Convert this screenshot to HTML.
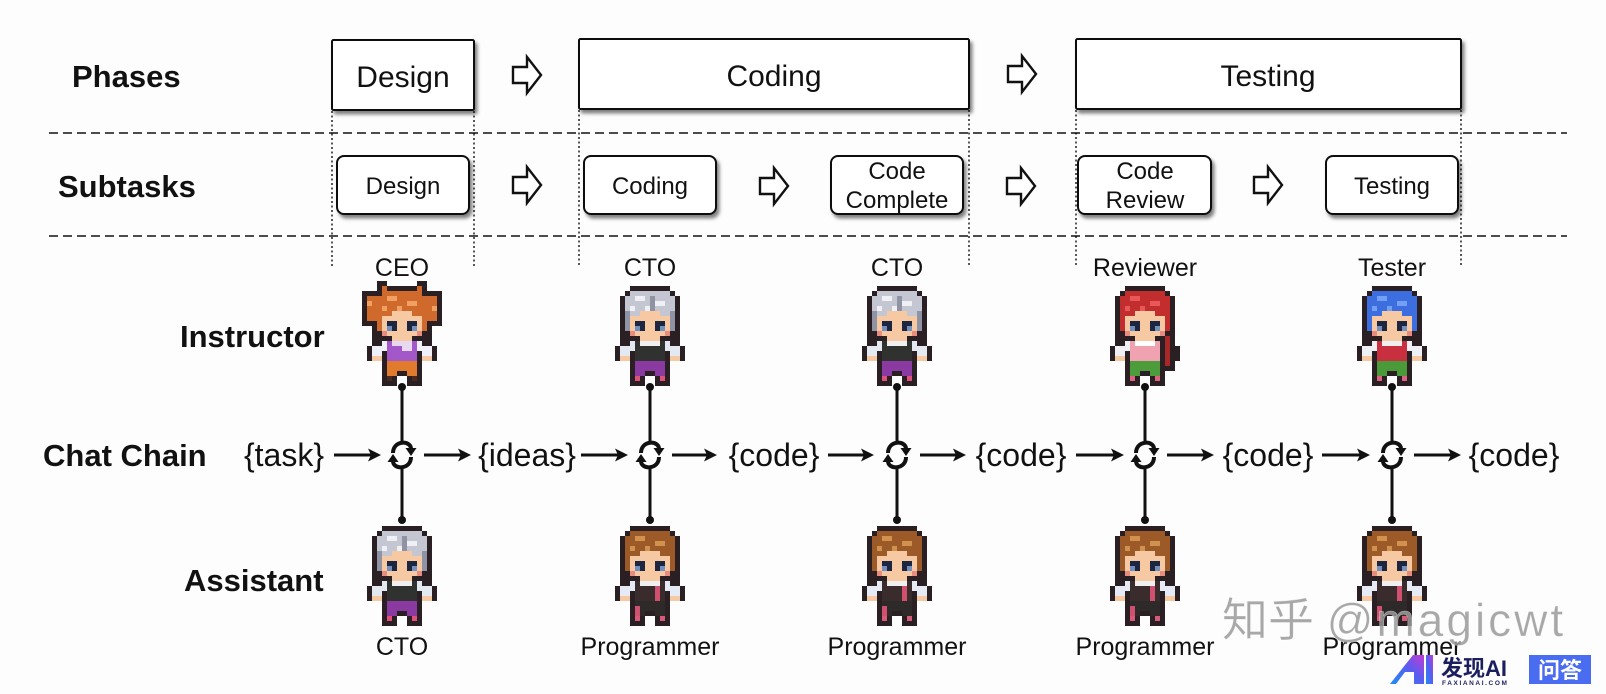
<!DOCTYPE html>
<html>
<head>
<meta charset="utf-8">
<style>
html,body{margin:0;padding:0;background:#fdfdfd;}
svg{display:block;}
text{font-family:"Liberation Sans","Noto Sans CJK SC",sans-serif;}
</style>
</head>
<body>
<svg width="1606" height="694" viewBox="0 0 1606 694" xmlns="http://www.w3.org/2000/svg">
<defs>
  <filter id="sh" x="-10%" y="-10%" width="130%" height="140%">
    <feDropShadow dx="2.5" dy="3.5" stdDeviation="1.8" flood-color="#000" flood-opacity="0.5"/>
  </filter>
  <linearGradient id="lg" x1="0" y1="1" x2="1" y2="0">
    <stop offset="0" stop-color="#1f8ef5"/>
    <stop offset="0.55" stop-color="#5a5cf0"/>
    <stop offset="1" stop-color="#c23bd4"/>
  </linearGradient>

  <g id="ha">
    <polygon points="-14,-8 0,-8 0,-18 14,0 0,18 0,8 -14,8" fill="#fff" stroke="#111" stroke-width="2.4" stroke-linejoin="miter"/>
  </g>

  <g id="cyc">
    <path d="M-9,-2 C-9,-15 9,-15 9,-6" fill="none" stroke="#111" stroke-width="4"/>
    <polygon points="3.5,-7 14.5,-7 9,1" fill="#111"/>
    <path d="M9,2 C9,15 -9,15 -9,6" fill="none" stroke="#111" stroke-width="4"/>
    <polygon points="-14.5,7 -3.5,7 -9,-1" fill="#111"/>
  </g>

  <g id="ah">
    <polygon points="-13,-6.5 0,0 -13,6.5 -10,0" fill="#111"/>
  </g>

  <g id="ch" shape-rendering="crispEdges">
    <g fill="#2a2024">
      <rect x="3" y="0" width="8" height="1"/>
      <rect x="2" y="1" width="10" height="1"/>
      <rect x="1" y="2" width="12" height="9"/>
      <rect x="1" y="11" width="12" height="4"/>
      <rect x="0" y="12" width="14" height="3"/>
      <rect x="3" y="15" width="8" height="3"/>
      <rect x="3" y="18" width="3" height="2"/>
      <rect x="8" y="18" width="3" height="2"/>
    </g>
    <g style="fill:var(--h)">
      <rect x="3" y="1" width="8" height="1"/>
      <rect x="2" y="2" width="10" height="4"/>
      <rect x="2" y="6" width="1" height="3"/>
      <rect x="11" y="6" width="1" height="3"/>
    </g>
    <g style="fill:var(--hl)">
      <rect x="4" y="2" width="2" height="1"/>
      <rect x="8" y="3" width="2" height="1"/>
      <rect x="3" y="4" width="1" height="1"/>
      <rect x="6" y="4" width="1" height="1"/>
    </g>
    <g fill="#f6c9a2">
      <rect x="5" y="5" width="4" height="1"/>
      <rect x="3" y="6" width="8" height="4"/>
      <rect x="5" y="10" width="4" height="1"/>
      <rect x="1" y="14" width="2" height="1"/>
      <rect x="11" y="14" width="2" height="1"/>
    </g>
    <g fill="#1d2640">
      <rect x="4" y="7" width="2" height="2"/>
      <rect x="8" y="7" width="2" height="2"/>
    </g>
    <g fill="#7090c0">
      <rect x="4" y="8" width="1" height="1"/>
      <rect x="9" y="8" width="1" height="1"/>
    </g>
    <g fill="#e88c80">
      <rect x="3" y="9" width="1" height="1"/>
      <rect x="10" y="9" width="1" height="1"/>
    </g>
    <g style="fill:var(--sl)">
      <rect x="1" y="12" width="2" height="2"/>
      <rect x="11" y="12" width="2" height="2"/>
      <rect x="3" y="11" width="1" height="2"/>
      <rect x="10" y="11" width="1" height="2"/>
    </g>
    <g style="fill:var(--b)"><rect x="4" y="11" width="6" height="4"/></g>
    <g style="fill:var(--c)"><rect x="5" y="11" width="4" height="1"/></g>
    <g style="fill:var(--p)">
      <rect x="4" y="15" width="6" height="2"/>
      <rect x="4" y="17" width="2" height="1"/>
      <rect x="8" y="17" width="2" height="1"/>
    </g>
    <g style="fill:var(--f)">
      <rect x="4" y="18" width="1" height="1"/>
      <rect x="9" y="18" width="1" height="1"/>
    </g>
  </g>

  <g id="ceo" shape-rendering="crispEdges">
    <g fill="#2a2024">
      <rect x="-1" y="1" width="3" height="7"/>
      <rect x="12" y="1" width="3" height="7"/>
      <rect x="2" y="-1" width="2" height="2"/>
      <rect x="10" y="-1" width="2" height="2"/>
    </g>
    <use href="#ch" style="--h:#cf6a2c;--hl:#f0a060;--sl:#f0f0f8;--b:#a258c8;--c:#e8d8f0;--p:#e07b2e;--f:#4a2a20"/>
    <g fill="#cf6a2c">
      <rect x="0" y="2" width="2" height="5"/>
      <rect x="12" y="2" width="2" height="5"/>
      <rect x="3" y="0" width="1" height="1"/>
      <rect x="10" y="0" width="1" height="1"/>
    </g>
    <g fill="#f0a060">
      <rect x="0" y="3" width="1" height="1"/>
      <rect x="13" y="4" width="1" height="1"/>
    </g>
    <g fill="#e8d8f0"><rect x="7" y="12" width="2" height="1"/></g>
  </g>
  <g id="cto" shape-rendering="crispEdges">
    <use href="#ch" style="--h:#c4c7d2;--hl:#eef0f6;--sl:#e4e8f0;--b:#30322f;--c:#f0f0f0;--p:#8a3aa0;--f:#e05078"/>
    <g fill="#8f93a3"><rect x="2" y="5" width="1" height="4"/><rect x="11" y="5" width="1" height="4"/><rect x="7" y="2" width="1" height="3"/></g>
  </g>
  <g id="prog" shape-rendering="crispEdges">
    <use href="#ch" style="--h:#9c5a28;--hl:#d0924c;--sl:#e6eaf4;--b:#3a2c2c;--c:#f0f0f0;--p:#2e2a2a;--f:#d85a78"/>
    <g fill="#d05070"><rect x="8" y="12" width="1" height="3"/><rect x="4" y="16" width="1" height="2"/></g>
  </g>
  <g id="rev" shape-rendering="crispEdges">
    <use href="#ch" style="--h:#c22e2e;--hl:#e8585a;--sl:#f0f0f4;--b:#f0a2b0;--c:#ffffff;--p:#4c9c3c;--f:#e06080"/>
    <g fill="#2a2024"><rect x="10" y="10" width="3" height="7"/></g>
    <g fill="#a82828"><rect x="11" y="10" width="1" height="6"/></g>
  </g>
  <g id="tes" shape-rendering="crispEdges">
    <use href="#ch" style="--h:#3c6ee0;--hl:#74a0f4;--sl:#eef0f6;--b:#c83040;--c:#f0f0f0;--p:#4a9a3a;--f:#e06080"/>
  </g>
</defs>

<rect width="1606" height="694" fill="#fdfdfd"/>

<g font-weight="bold" font-size="31" fill="#111">
  <text x="72" y="87">Phases</text>
  <text x="58" y="197">Subtasks</text>
  <text x="180" y="347">Instructor</text>
  <text x="43" y="466">Chat Chain</text>
  <text x="184" y="591">Assistant</text>
</g>

<g stroke="#111" stroke-width="1.5" stroke-dasharray="9 5">
  <line x1="49" y1="133" x2="1567" y2="133"/>
  <line x1="49" y1="236" x2="1567" y2="236"/>
</g>

<g stroke="#000" stroke-width="1.3" stroke-dasharray="2 2.5">
  <line x1="332" y1="111" x2="332" y2="266"/>
  <line x1="474" y1="111" x2="474" y2="266"/>
  <line x1="579" y1="110" x2="579" y2="266"/>
  <line x1="969" y1="110" x2="969" y2="266"/>
  <line x1="1076" y1="110" x2="1076" y2="266"/>
  <line x1="1461" y1="110" x2="1461" y2="266"/>
</g>

<g fill="#fff" stroke="#111" stroke-width="2" filter="url(#sh)">
  <rect x="332" y="40" width="142" height="70" rx="1.5"/>
  <rect x="579" y="39" width="390" height="70" rx="1.5"/>
  <rect x="1076" y="39" width="385" height="70" rx="1.5"/>
</g>
<g font-size="30" fill="#111" text-anchor="middle">
  <text x="403" y="87">Design</text>
  <text x="774" y="86">Coding</text>
  <text x="1268" y="86">Testing</text>
</g>
<use href="#ha" transform="translate(527,75)"/>
<use href="#ha" transform="translate(1022,74)"/>

<g fill="#fff" stroke="#111" stroke-width="2" filter="url(#sh)">
  <rect x="337" y="156" width="132" height="58" rx="7"/>
  <rect x="584" y="156" width="132" height="58" rx="7"/>
  <rect x="831" y="156" width="132" height="58" rx="7"/>
  <rect x="1078" y="156" width="133" height="58" rx="7"/>
  <rect x="1326" y="156" width="132" height="58" rx="7"/>
</g>
<g font-size="24" fill="#111" text-anchor="middle">
  <text x="403" y="194">Design</text>
  <text x="650" y="194">Coding</text>
  <text x="897" y="179">Code</text>
  <text x="897" y="208">Complete</text>
  <text x="1145" y="179">Code</text>
  <text x="1145" y="208">Review</text>
  <text x="1392" y="194">Testing</text>
</g>
<use href="#ha" transform="translate(527,185)"/>
<use href="#ha" transform="translate(774,186)"/>
<use href="#ha" transform="translate(1021,186)"/>
<use href="#ha" transform="translate(1268,185)"/>

<g font-size="25" fill="#111" text-anchor="middle">
  <text x="402" y="276">CEO</text>
  <text x="650" y="276">CTO</text>
  <text x="897" y="276">CTO</text>
  <text x="1145" y="276">Reviewer</text>
  <text x="1392" y="276">Tester</text>
  <text x="402" y="655">CTO</text>
  <text x="650" y="655">Programmer</text>
  <text x="897" y="655">Programmer</text>
  <text x="1145" y="655">Programmer</text>
  <text x="1392" y="655">Programmer</text>
</g>

<g stroke="#111" stroke-width="3">
  <line x1="402" y1="387" x2="402" y2="441"/><line x1="402" y1="469" x2="402" y2="520"/>
  <line x1="650" y1="387" x2="650" y2="441"/><line x1="650" y1="469" x2="650" y2="520"/>
  <line x1="897" y1="387" x2="897" y2="441"/><line x1="897" y1="469" x2="897" y2="520"/>
  <line x1="1145" y1="387" x2="1145" y2="441"/><line x1="1145" y1="469" x2="1145" y2="520"/>
  <line x1="1392" y1="387" x2="1392" y2="441"/><line x1="1392" y1="469" x2="1392" y2="520"/>
</g>

<use href="#ceo" transform="translate(367,286) scale(5)"/>
<use href="#cto" transform="translate(615,286) scale(5)"/>
<use href="#cto" transform="translate(862,286) scale(5)"/>
<use href="#rev" transform="translate(1110,286) scale(5)"/>
<use href="#tes" transform="translate(1357,286) scale(5)"/>
<use href="#cto" transform="translate(367,526) scale(5)"/>
<use href="#prog" transform="translate(615,526) scale(5)"/>
<use href="#prog" transform="translate(862,526) scale(5)"/>
<use href="#prog" transform="translate(1110,526) scale(5)"/>
<use href="#prog" transform="translate(1357,526) scale(5)"/>

<g fill="#111">
  <circle cx="402" cy="387" r="4"/><circle cx="402" cy="520" r="4"/>
  <circle cx="650" cy="387" r="4"/><circle cx="650" cy="520" r="4"/>
  <circle cx="897" cy="387" r="4"/><circle cx="897" cy="520" r="4"/>
  <circle cx="1145" cy="387" r="4"/><circle cx="1145" cy="520" r="4"/>
  <circle cx="1392" cy="387" r="4"/><circle cx="1392" cy="520" r="4"/>
</g>

<g font-size="32" fill="#111" text-anchor="middle">
  <text x="284" y="466">{task}</text>
  <text x="527" y="466">{ideas}</text>
  <text x="774" y="466">{code}</text>
  <text x="1021" y="466">{code}</text>
  <text x="1268" y="466">{code}</text>
  <text x="1514" y="466">{code}</text>
</g>
<g stroke="#111" stroke-width="3">
  <line x1="334" y1="455" x2="372" y2="455"/>
  <line x1="424" y1="455" x2="462" y2="455"/>
  <line x1="581" y1="455" x2="619" y2="455"/>
  <line x1="672" y1="455" x2="708" y2="455"/>
  <line x1="828" y1="455" x2="865" y2="455"/>
  <line x1="920" y1="455" x2="957" y2="455"/>
  <line x1="1076" y1="455" x2="1115" y2="455"/>
  <line x1="1167" y1="455" x2="1205" y2="455"/>
  <line x1="1322" y1="455" x2="1361" y2="455"/>
  <line x1="1414" y1="455" x2="1452" y2="455"/>
</g>
<use href="#ah" transform="translate(381,455)"/>
<use href="#ah" transform="translate(471,455)"/>
<use href="#ah" transform="translate(628,455)"/>
<use href="#ah" transform="translate(717,455)"/>
<use href="#ah" transform="translate(874,455)"/>
<use href="#ah" transform="translate(966,455)"/>
<use href="#ah" transform="translate(1124,455)"/>
<use href="#ah" transform="translate(1214,455)"/>
<use href="#ah" transform="translate(1370,455)"/>
<use href="#ah" transform="translate(1461,455)"/>
<use href="#cyc" transform="translate(402,455)"/>
<use href="#cyc" transform="translate(650,455)"/>
<use href="#cyc" transform="translate(897,455)"/>
<use href="#cyc" transform="translate(1145,455)"/>
<use href="#cyc" transform="translate(1392,455)"/>

<text x="1222" y="636" font-size="46" fill="#9a9a9a" opacity="0.85" stroke="#ffffff" stroke-width="0.6" stroke-opacity="0.6">知乎 <tspan letter-spacing="3">@magicwt</tspan></text>

<polygon points="1390,684 1413,655 1424,655 1424,684 1414,684 1414,672 1405,672 1396,684" fill="url(#lg)"/>
<rect x="1426" y="655" width="7" height="29" fill="url(#lg)"/>
<text x="1441" y="676" font-size="22" font-weight="bold" fill="#1c1f5e">发现AI</text>
<text x="1442" y="685" font-size="6.5" font-weight="bold" fill="#1c1f5e" letter-spacing="1.6">FAXIANAI.COM</text>
<rect x="1529" y="655" width="62" height="29" fill="#4a6cf0"/>
<text x="1560" y="678" font-size="22" font-weight="bold" fill="#fff" text-anchor="middle">问答</text>
</svg>
</body>
</html>
